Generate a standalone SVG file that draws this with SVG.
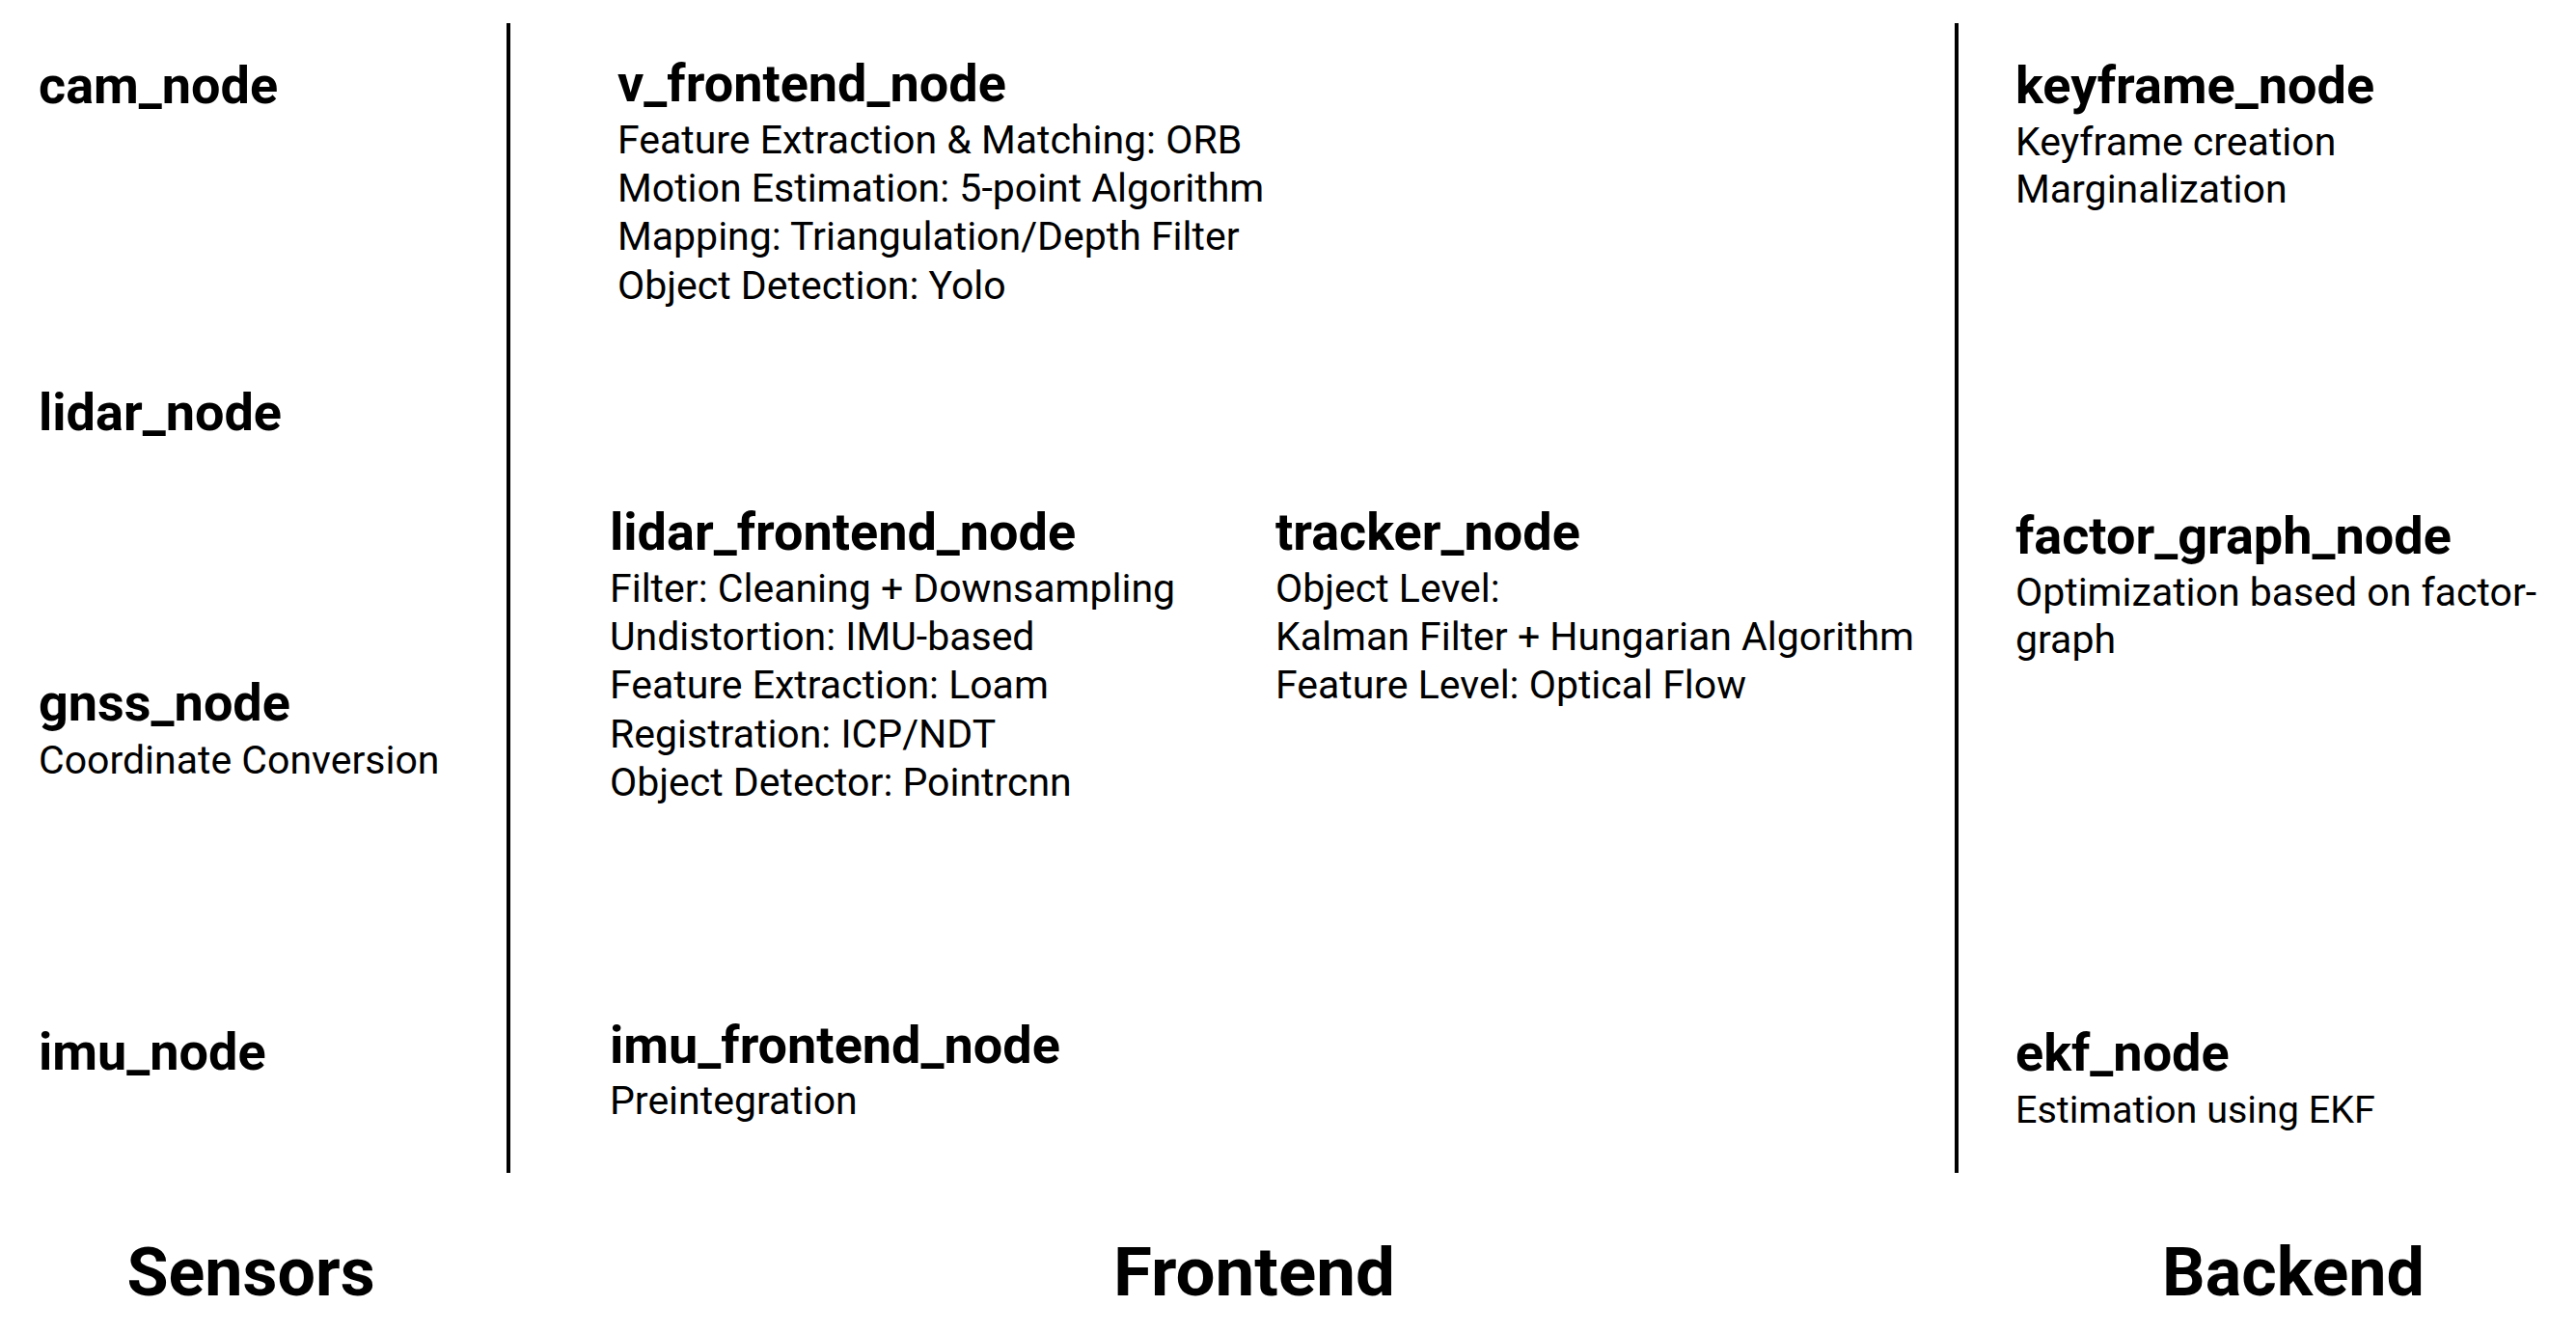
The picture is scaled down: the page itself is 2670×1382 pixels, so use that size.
<svg xmlns="http://www.w3.org/2000/svg" width="2670" height="1382" viewBox="0 0 2670 1382">
<style>
text{font-family:Roboto,"Liberation Sans","Noto Sans",sans-serif;fill:#000}
.h{font-size:54px;font-weight:bold}
.b{font-size:41px}
.col{font-size:70px;font-weight:bold;text-anchor:middle}
.div{stroke:#000;stroke-width:4}
</style>
<rect width="2670" height="1382" fill="#fff"/>
<g id="dividers">
<line class="div" x1="527" y1="24" x2="527" y2="1216"/>
<line class="div" x1="2028" y1="24" x2="2028" y2="1216"/>
</g>
<g id="cam_node"><text class="h" x="40" y="107">cam_node</text></g>
<g id="lidar_node"><text class="h" x="40" y="446">lidar_node</text></g>
<g id="gnss_node"><text class="h" x="40" y="747">gnss_node</text><text class="b" x="40" y="802">Coordinate Conversion</text></g>
<g id="imu_node"><text class="h" x="40" y="1109">imu_node</text></g>
<g id="v_frontend_node"><text class="h" x="640" y="105">v_frontend_node</text>
<text class="b" x="640" y="159">Feature Extraction &amp; Matching: ORB</text>
<text class="b" x="640" y="209">Motion Estimation: 5-point Algorithm</text>
<text class="b" x="640" y="259">Mapping: Triangulation/Depth Filter</text>
<text class="b" x="640" y="310">Object Detection: Yolo</text></g>
<g id="lidar_frontend_node"><text class="h" x="632" y="570">lidar_frontend_node</text>
<text class="b" x="632" y="624">Filter: Cleaning + Downsampling</text>
<text class="b" x="632" y="674">Undistortion: IMU-based</text>
<text class="b" x="632" y="724">Feature Extraction: Loam</text>
<text class="b" x="632" y="775">Registration: ICP/NDT</text>
<text class="b" x="632" y="825">Object Detector: Pointrcnn</text></g>
<g id="tracker_node"><text class="h" x="1322" y="570">tracker_node</text>
<text class="b" x="1322" y="624">Object Level:</text>
<text class="b" x="1322" y="674">Kalman Filter + Hungarian Algorithm</text>
<text class="b" x="1322" y="724">Feature Level: Optical Flow</text></g>
<g id="imu_frontend_node"><text class="h" x="632" y="1102">imu_frontend_node</text>
<text class="b" x="632" y="1155">Preintegration</text></g>
<g id="keyframe_node"><text class="h" x="2089" y="107">keyframe_node</text>
<text class="b" x="2089" y="161">Keyframe creation</text>
<text class="b" x="2089" y="210">Marginalization</text></g>
<g id="factor_graph_node"><text class="h" x="2089" y="574">factor_graph_node</text>
<text class="b" x="2089" y="628">Optimization based on factor-</text>
<text class="b" x="2089" y="677">graph</text></g>
<g id="ekf_node"><text class="h" x="2089" y="1110">ekf_node</text>
<text class="b" x="2089" y="1164" style="font-size:39.5px">Estimation using EKF</text></g>
<g id="columns">
<text class="col" x="260" y="1343">Sensors</text>
<text class="col" x="1300" y="1343" textLength="292" lengthAdjust="spacingAndGlyphs">Frontend</text>
<text class="col" x="2377" y="1343">Backend</text>
</g>
</svg>
